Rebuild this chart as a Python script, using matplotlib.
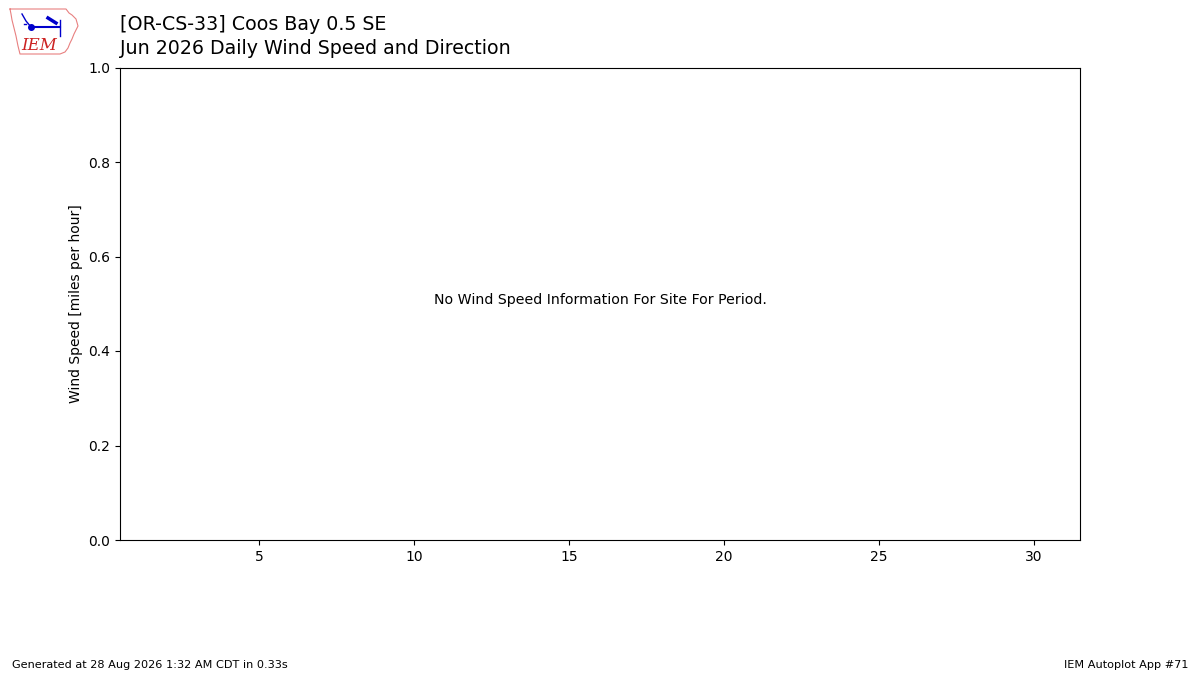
import matplotlib
matplotlib.use("Agg")
import matplotlib.pyplot as plt

# Chart content
site_title = "[OR-CS-33] Coos Bay 0.5 SE"
sub_title = "Jun 2026 Daily Wind Speed and Direction"
ylabel = "Wind Speed [miles per hour]"
message = "No Wind Speed Information For Site For Period."
footer_left = "Generated at 28 Aug 2026 1:32 AM CDT in 0.33s"
footer_right = "IEM Autoplot App #71"
xticks = [5, 10, 15, 20, 25, 30]
yticks = [0.0, 0.2, 0.4, 0.6, 0.8, 1.0]

fig = plt.figure(figsize=(12, 6.75), dpi=100)
ax = fig.add_axes([0.1, 0.2, 0.8, 0.7])
ax.set_xlim(0.5, 31.5)
ax.set_ylim(0, 1)
ax.set_xticks(xticks)
ax.set_yticks(yticks)
ax.set_ylabel(ylabel)
ax.text(0.5, 0.5, message, ha="center", fontsize=10.2, transform=ax.transAxes)

fig.text(0.1, 1 - 24 / 675, site_title, fontsize=13.7, va="center")
fig.text(0.1, 1 - 48 / 675, sub_title, fontsize=13.7, va="center")
fig.text(0.01, 1 - 665 / 675, footer_left, fontsize=8.15, va="center")
fig.text(0.99, 1 - 665 / 675, footer_right, fontsize=8.15, ha="right",
         va="center")

# rough IEM logo
lg = fig.add_axes([8 / 1200, 1 - 58 / 675, 72 / 1200, 52 / 675])
lg.set_xlim(0, 72)
lg.set_ylim(52, 0)
lg.axis("off")
ox = [2, 58, 61, 64, 68, 70, 68, 66, 64, 62, 60, 57, 52, 12, 10, 8, 6, 4, 3, 2]
oy = [3, 3, 7, 9, 13, 20, 24, 28, 33, 37, 42, 46, 48, 48, 40, 30, 22, 14, 8, 3]
lg.plot(ox, oy, color="#e88080", lw=0.8)
lg.plot([23, 52], [21, 21], color="#0000cc", lw=1.5)
lg.plot([23], [21], "o", color="#0000cc", ms=4)
lg.plot([14, 18, 23], [8, 15, 21], color="#0000cc", lw=1)
lg.plot([40, 48], [12, 17], color="#0000cc", lw=2.5)
lg.plot([52, 52], [14, 30], color="#0000cc", lw=1)
lg.plot([16, 18], [18, 18], color="#0000cc", lw=1)
lg.text(13, 40, "IEM", color="#cc2222", fontsize=12, family="DejaVu Serif",
        style="italic", va="center")

fig.savefig("out.png", dpi=100)
